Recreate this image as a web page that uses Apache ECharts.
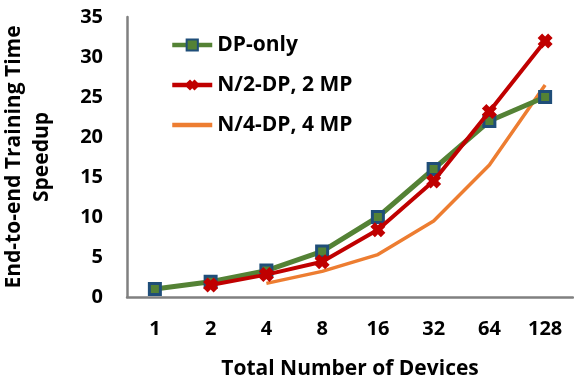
<!DOCTYPE html>
<html>
<head>
<meta charset="utf-8">
<script src="https://cdn.jsdelivr.net/npm/echarts@6/dist/echarts.min.js"></script>
<style>
  html, body { margin: 0; padding: 0; background: #fff; }
  #chart { width: 574px; height: 383px; }
</style>
</head>
<body>
<div id="chart"></div>
<script>
// values
const devices = ['1', '2', '4', '8', '16', '32', '64', '128']
const dpOnly = [1, 1.9, 3.3, 5.7, 10, 16, 22, 25]
const halfDp = ['-', 1.5, 2.8, 4.4, 8.4, 14.5, 23.2, 32]
const quarterDp = ['-', '-', 1.7, 3.2, 5.3, 9.5, 16.5, 26.5]
const yTicks = [0, 5, 10, 15, 20, 25, 30, 35]

const font = 'Open Sans'
// bold "x" marker
const crossSymbol = 'path://M0,3 L3,0 L5,2 L7,0 L10,3 L8,5 L10,7 L7,10 L5,8 L3,10 L0,7 L2,5 Z'

const chart = echarts.init(document.getElementById('chart'))

const options = {
  animation: false,
  textStyle: { fontFamily: font },
  grid: { left: 127, right: 1, top: 17, bottom: 86, outerBoundsMode: 'none' },
  legend: {
    orient: 'vertical',
    left: 165,
    top: 28,
    itemWidth: 40,
    itemHeight: 14,
    itemGap: 16,
    lineStyle: { width: 4.5 },
    textStyle: { fontFamily: font, fontWeight: 'bold', fontSize: 21, lineHeight: 24, color: '#000' },
    data: [
      { name: 'DP-only' },
      { name: 'N/2-DP, 2 MP' },
      { name: 'N/4-DP, 4 MP', itemStyle: { opacity: 0 } }
    ]
  },
  xAxis: {
    type: 'category',
    data: devices,
    name: 'Total Number of Devices',
    nameLocation: 'middle',
    nameGap: 62,
    nameTextStyle: { fontFamily: font, fontWeight: 'bold', fontSize: 21, color: '#000' },
    axisLine: { lineStyle: { color: '#808080', width: 2.5 } },
    axisTick: { show: false },
    axisLabel: { fontFamily: font, fontWeight: 'bold', fontSize: 20, color: '#000', margin: 22 }
  },
  yAxis: {
    type: 'value',
    min: yTicks[0],
    max: yTicks[yTicks.length - 1],
    interval: 5,
    name: 'End-to-end Training Time\nSpeedup',
    nameLocation: 'middle',
    nameRotate: 90,
    nameGap: 71,
    nameTextStyle: { fontFamily: font, fontWeight: 'bold', fontSize: 21, lineHeight: 28, color: '#000', align: 'center' },
    axisLine: { show: true, lineStyle: { color: '#808080', width: 2.5 } },
    axisTick: { show: false },
    splitLine: { show: false },
    axisLabel: { fontFamily: font, fontWeight: 'bold', fontSize: 20, color: '#000', margin: 24 }
  },
  series: [
    {
      name: 'N/4-DP, 4 MP',
      type: 'line',
      data: quarterDp,
      symbol: 'none',
      lineStyle: { color: '#ed7d31', width: 3.5 },
      itemStyle: { color: '#ed7d31' },
      z: 2
    },
    {
      name: 'DP-only',
      type: 'line',
      data: dpOnly,
      symbol: 'rect',
      symbolSize: 11,
      lineStyle: { color: '#548235', width: 5 },
      itemStyle: { color: '#548235', borderColor: '#1f4e79', borderWidth: 3 },
      z: 3
    },
    {
      name: 'N/2-DP, 2 MP',
      type: 'line',
      data: halfDp,
      symbol: crossSymbol,
      symbolSize: 15,
      lineStyle: { color: '#c00000', width: 4 },
      itemStyle: { color: '#c00000' },
      z: 4
    }
  ]
}

chart.setOption(options)
window.addEventListener('resize', chart.resize)
</script>
</body>
</html>
